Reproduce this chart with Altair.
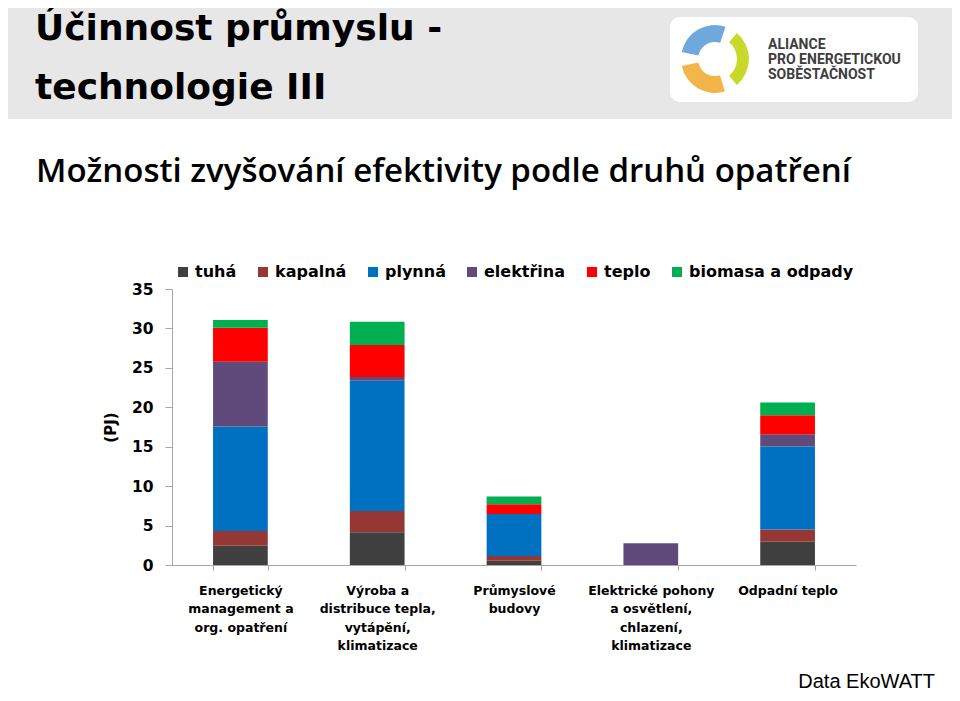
import altair as alt
import pandas as pd
import math

# ---------------- data ----------------
categories = [
    "Energetický\nmanagement a\norg. opatření",
    "Výroba a\ndistribuce tepla,\nvytápění,\nklimatizace",
    "Průmyslové\nbudovy",
    "Elektrické pohony\na osvětlení,\nchlazení,\nklimatizace",
    "Odpadní teplo",
]
series = ["tuhá", "kapalná", "plynná", "elektřina", "teplo", "biomasa a odpady"]
colors = ["#404040", "#953735", "#0070C0", "#604A7B", "#FF0000", "#00B050"]

tuha = [2.45, 4.15, 0.55, 0.0, 2.96]
kapalna = [1.87, 2.71, 0.60, 0.0, 1.53]
plynna = [13.24, 16.50, 5.33, 0.0, 10.53]
elektrina = [8.21, 0.47, 0.0, 2.75, 1.57]
teplo = [4.32, 4.06, 1.23, 0.0, 2.41]
biomasa = [0.97, 2.96, 0.98, 0.0, 1.61]

y_ticks = [0, 5, 10, 15, 20, 25, 30, 35]
y_title = "(PJ)"
title_lines = ["Účinnost průmyslu -", "technologie III"]
subtitle = "Možnosti zvyšování efektivity podle druhů opatření"
logo_lines = ["ALIANCE", "PRO ENERGETICKOU", "SOBĚSTAČNOST"]
source = "Data EkoWATT"

# ---------------- table ----------------
rows = []
for si, (name, vals) in enumerate(zip(series, [tuha, kapalna, plynna, elektrina, teplo, biomasa])):
    for cat, v in zip(categories, vals):
        if v > 0:
            rows.append({"kategorie": cat, "druh": name, "hodnota": v, "poradi": si})
df = pd.DataFrame(rows)

FONT = "DejaVu Sans"
HEAD_FONT = "Open Sans"
AXIS_GRAY = "#a6a6a6"

bars = alt.Chart(df).mark_bar().encode(
    x=alt.X(
        "kategorie:N",
        sort=categories,
        scale=alt.Scale(paddingInner=0.6, paddingOuter=0.3),
        axis=alt.Axis(
            title=None,
            labelExpr="split(datum.label, '\\n')",
            labelAngle=0,
            labelFont=FONT,
            labelFontSize=12.5,
            labelFontWeight="bold",
            labelColor="#000000",
            labelLineHeight=18.5,
            labelPadding=14,
            labelLimit=0,
            tickBand="extent",
            tickSize=5,
            tickColor=AXIS_GRAY,
            domainColor=AXIS_GRAY,
        ),
    ),
    y=alt.Y(
        "hodnota:Q",
        stack="zero",
        scale=alt.Scale(domain=[0, 35], nice=False),
        axis=alt.Axis(
            values=y_ticks,
            grid=False,
            title=y_title,
            titleFont=FONT,
            titleFontSize=15,
            titleFontWeight="bold",
            titleColor="#000000",
            titleAngle=270,
            titleX=-62,
            titleY=138,
            titleAlign="center",
            titleBaseline="middle",
            labelFont=FONT,
            labelFontSize=15.5,
            labelFontWeight="bold",
            labelColor="#000000",
            labelPadding=12,
            tickSize=7,
            tickColor=AXIS_GRAY,
            domainColor=AXIS_GRAY,
        ),
    ),
    color=alt.Color(
        "druh:N",
        scale=alt.Scale(domain=series, range=colors),
        legend=alt.Legend(
            title=None,
            orient="none",
            legendX=3,
            legendY=-25,
            direction="horizontal",
            columns=6,
            symbolType="square",
            symbolSize=100,
            symbolStrokeWidth=0,
            labelFont=FONT,
            labelFontSize=16,
            labelFontWeight="bold",
            labelColor="#000000",
            labelOffset=4,
            labelLimit=0,
            columnPadding=18,
            padding=0,
        ),
    ),
    order=alt.Order("poradi:Q"),
)

one = pd.DataFrame({"a": [0]})


def rect(x, x2, y, y2, color, radius=0):
    return alt.Chart(one).mark_rect(color=color, cornerRadius=radius).encode(
        x=alt.value(x), x2=alt.value(x2), y=alt.value(y), y2=alt.value(y2)
    )


def text(txt, x, y, **kw):
    return alt.Chart(pd.DataFrame({"t": [txt]})).mark_text(**kw).encode(
        x=alt.value(x), y=alt.value(y), text="t:N"
    )


def arc(t1, t2, r, r2, color):
    return alt.Chart(one).mark_arc(theta=t1, theta2=t2, radius=r, radius2=r2, color=color).encode(
        x=alt.value(543), y=alt.value(-230)
    )


deg = math.pi / 180

header = rect(-164, 780, -281, -170, "#e7e7e7")
logo_box = rect(498, 746, -272, -187, "#ffffff", 10)
arc_blue = arc(282 * deg, 378 * deg, 34, 17, "#6fa8dc")
arc_orange = arc(163 * deg, 258 * deg, 34, 17, "#f2b54a")
arc_green = arc(40 * deg, 140 * deg, 34, 22, "#c8d92b")

logo_texts = [
    text(line, 596, -244 + 15 * i, align="left", baseline="middle", font="Roboto",
         fontSize=14, fontWeight="bold", color="#3d3d3d")
    for i, line in enumerate(logo_lines)
]

title1 = text(title_lines[0], -137, -249, align="left", baseline="alphabetic", font=FONT,
              fontSize=36, fontWeight="bold", color="#000000")
title2 = text(title_lines[1], -137, -190, align="left", baseline="alphabetic", font=FONT,
              fontSize=36, fontWeight="bold", color="#000000")
sub = text(subtitle, -136, -107, align="left", baseline="alphabetic", font=HEAD_FONT,
           fontSize=33, fontWeight=600, color="#000000")
src = text(source, 763, 399, align="right", baseline="alphabetic", font="Liberation Sans",
           fontSize=20, color="#000000")

chart = alt.layer(
    header, logo_box, arc_blue, arc_orange, arc_green, *logo_texts,
    title1, title2, sub, src, bars
).properties(
    width=684,
    height=276,
    padding={"left": 164, "top": 281, "right": 96, "bottom": 128},
    autosize=alt.AutoSizeParams(type="none"),
    background="#ffffff",
).configure_view(stroke=None)

chart.save("out.html", embed_options={"renderer": "svg", "actions": False})
